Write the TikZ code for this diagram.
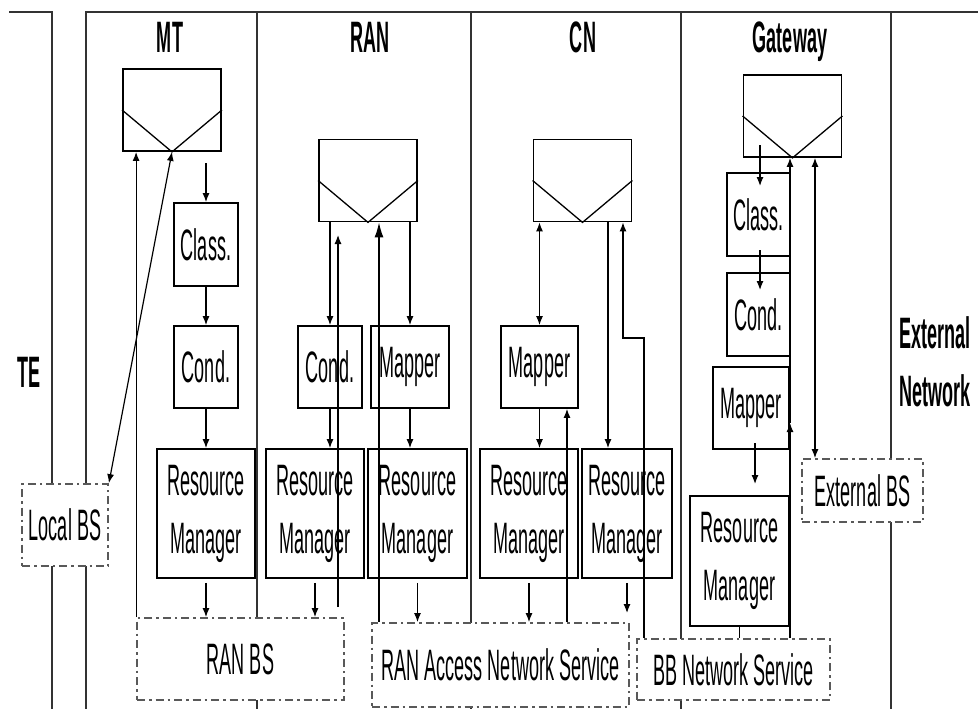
\documentclass[tikz,border=0pt]{standalone}
\usepackage{fontspec}
\setmainfont{Liberation Sans}[FakeStretch=0.41]
\usetikzlibrary{arrows.meta}
\begin{document}
\begin{tikzpicture}[x=1pt,y=-1pt,
  bnd/.style={line width=1.4pt, draw=black!80},
  sbox/.style={draw, line width=1.8pt, inner sep=0pt, align=center, font=\fontsize{44}{58}\selectfont},
  dbox/.style={draw=black!65, fill=white, line width=1.8pt, dash pattern=on 8pt off 4pt on 2.5pt off 4pt, inner sep=0pt, align=center, font=\fontsize{44}{58}\selectfont},
  gbox/.style={draw, line width=1.8pt, inner sep=0pt, minimum width=98pt, minimum height=82pt},
  vl/.style={line width=1.3pt},
  hdr/.style={font=\bfseries\fontsize{44}{58}\selectfont, inner sep=0pt, align=center},
  arr/.style={line width=1.2pt, -{Latex[length=9pt,width=7pt]}},
  darr/.style={line width=1.2pt, {Latex[length=9pt,width=7pt]}-{Latex[length=9pt,width=7pt]}},
  bigarr/.style={line width=1.4pt, -{Latex[length=15pt,width=9pt]}},
  tick/.style={line width=1.2pt}]
\useasboundingbox (0,0) rectangle (978,709);

% swim-lane boundaries
\draw[bnd] (9,12) -- (52,12) -- (52,709);
\draw[bnd] (86,709) -- (86,12) -- (978,12);
\draw[bnd] (257,12) -- (257,709);
\draw[bnd] (471,12) -- (471,709);
\draw[bnd] (681,12) -- (681,709);
\draw[bnd] (891,12) -- (891,709);

% headers
\node[hdr, anchor=base] (hmt) at (170,53) {MT};
\node[hdr, anchor=base] (hran) at (370,53) {RAN};
\node[hdr, anchor=base] (hcn) at (583,53) {CN};
\node[hdr, anchor=base] (hgw) at (790,53) {Gateway};
\node[hdr, anchor=base] (hte) at (29,387) {TE};
\node[hdr] (hext) at (935,362) {External\\Network};

% dashed service boxes
\node[dbox, minimum width=86pt, minimum height=82pt] (localbs) at (65,525) {Local BS};
\node[dbox, minimum width=207pt, minimum height=82pt] (ranbs) at (240.5,659) {RAN BS};
\node[dbox, minimum width=257pt, minimum height=84pt] (ransvc) at (500.5,665) {RAN Access Network Service};
\node[dbox, minimum width=193pt, minimum height=61pt] (bbns) at (733.5,669.5) {BB Network Service};
\node[dbox, minimum width=121pt, minimum height=63pt] (extbs) at (862.5,490.5) {External BS};

% gateway (queue) boxes
\node[gbox] (mtbox) at (172,110) {};
\node[gbox] (ranbox) at (368,180.5) {};
\node[gbox] (cnbox) at (582.5,180.5) {};
\node[gbox] (gwbox) at (792.5,116) {};
\foreach \b in {mtbox,ranbox,cnbox,gwbox}
  \draw[vl] (\b.west) -- (\b.south) -- (\b.east);

% MT
\node[sbox, minimum width=64pt, minimum height=83pt] (mtclass) at (206,244.5) {Class.};
\node[sbox, minimum width=64pt, minimum height=82pt] (mtcond) at (206,367) {Cond.};
\node[sbox, minimum width=98pt, minimum height=129pt] (mtrm) at (206,513.5) {Resource\\Manager};
% RAN
\node[sbox, minimum width=64pt, minimum height=82pt] (rancond) at (330,367) {Cond.};
\node[sbox, minimum width=78pt, minimum height=82pt] (ranmap) at (410,367) {Mapper};
\node[sbox, minimum width=98pt, minimum height=129pt] (ranrm1) at (315,513.5) {Resource\\Manager};
\node[sbox, minimum width=99pt, minimum height=129pt] (ranrm2) at (417.5,513.5) {Resource\\Manager};
% CN
\node[sbox, minimum width=77pt, minimum height=82pt] (cnmap) at (539.5,367) {Mapper};
\node[sbox, minimum width=98pt, minimum height=129pt] (cnrm1) at (529,513.5) {Resource\\Manager};
\node[sbox, minimum width=90pt, minimum height=129pt] (cnrm2) at (627,513.5) {Resource\\Manager};
% Gateway
\node[sbox, minimum width=63pt, minimum height=83pt] (gwclass) at (758.5,214.5) {Class.};
\node[sbox, minimum width=63pt, minimum height=83pt] (gwcond) at (758.5,314.5) {Cond.};
\node[sbox, minimum width=76pt, minimum height=82pt] (gwmap) at (751,408) {Mapper};
\node[sbox, minimum width=99pt, minimum height=130pt] (gwrm) at (739.5,561) {Resource\\Manager};

% helper coordinates
\coordinate (mtin) at (206,163);
\coordinate (x338a) at (338,607);
\coordinate (x338b) at (338,235);
\coordinate (x379) at (379,0);
\coordinate (x567) at (567,0);
\coordinate (x608) at (608,0);
\coordinate (cnja) at (644,338);
\coordinate (cnjb) at (623,338);
\coordinate (cnrmend) at (627,613);
\coordinate (g1a) at (760,145);
\coordinate (g1b) at (760,186);
\coordinate (g2a) at (760,250);
\coordinate (g2b) at (760,290);
\coordinate (gmid) at (790,423);
\coordinate (g3a) at (755,443);
\coordinate (g3b) at (755,484);
\coordinate (x815) at (815,0);

% MT connectors
\draw[darr] (mtbox.south) -- (localbs.north east);
\draw[arr] (ranbs.north west) -- (ranbs.north west |- mtbox.south);
\draw[arr] (mtin) -- (mtclass.north);
\draw[arr] (mtclass.south) -- (mtcond.north);
\draw[arr] (mtcond.south) -- (mtrm.north);
\draw[arr] ([yshift=-4pt]mtrm.south) -- (mtrm.south |- ranbs.north);

% RAN connectors
\draw[arr] (ranbox.south -| rancond) -- (rancond.north);
\draw[arr] (x338a) -- (x338b);
\draw[bigarr] (ransvc.north -| x379) -- (x379 |- ranbox.south);
\draw[arr] (ranbox.south -| ranmap) -- (ranmap.north);
\draw[arr] (rancond.south) -- (rancond.south |- ranrm1.north);
\draw[arr] (ranmap.south) -- (ranmap.south |- ranrm2.north);
\draw[arr] ([yshift=-4pt]ranrm1.south) -- (ranrm1.south |- ranbs.north);
\draw[arr] ([yshift=-4pt]ranrm2.south) -- (ranrm2.south |- ransvc.north);

% CN connectors
\draw[darr] (cnbox.south -| cnmap) -- (cnmap.north);
\draw[arr] (x608 |- cnbox.south) -- (x608 |- cnrm2.north);
\draw[arr] (bbns.north -| cnja) -- (cnja) -- (cnjb) -- (cnjb |- cnbox.south);
\draw[arr] (cnmap.south) -- (cnmap.south |- cnrm1.north);
\draw[arr] (ransvc.north -| x567) -- (x567 |- cnmap.south);
\draw[arr] ([yshift=-4pt]cnrm1.south) -- (cnrm1.south |- ransvc.north);
\draw[arr] ([yshift=-4pt]cnrm2.south) -- (cnrmend);

% Gateway connectors
\draw[arr] (g1a) -- (g1b);
\draw[arr] (g2a) -- (g2b);
\draw[arr] (bbns.north -| gmid) -- (gmid);
\draw[arr] (gmid) -- (gmid |- gwbox.south);
\draw[arr] (g3a) -- (g3b);
\draw[tick] (gwrm.south) -- (gwrm.south |- bbns.north);
\draw[darr] (x815 |- gwbox.south) -- (x815 |- extbs.north);
\end{tikzpicture}
\end{document}
